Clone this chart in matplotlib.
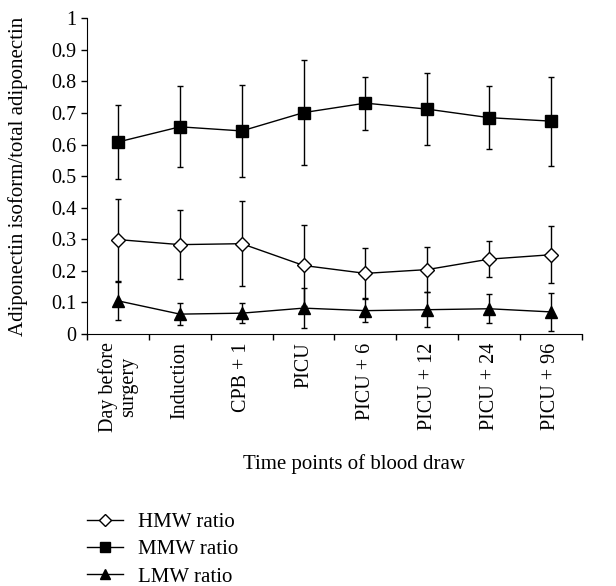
import matplotlib
matplotlib.use("Agg")
import matplotlib.pyplot as plt
from matplotlib.lines import Line2D
import numpy as np

plt.rcParams['font.family'] = ['Liberation Serif', 'DejaVu Serif']

# Time points and ratios
time_points = ["Day before\nsurgery", "Induction", "CPB + 1", "PICU",
               "PICU + 6", "PICU + 12", "PICU + 24", "PICU + 96"]

hmw = [0.299, 0.283, 0.286, 0.217, 0.192, 0.204, 0.237, 0.251]
hmw_sd = [0.130, 0.109, 0.134, 0.128, 0.079, 0.070, 0.056, 0.090]

mmw = [0.608, 0.656, 0.643, 0.701, 0.731, 0.712, 0.685, 0.674]
mmw_sd = [0.118, 0.128, 0.146, 0.165, 0.084, 0.113, 0.099, 0.141]

lmw = [0.105, 0.063, 0.066, 0.082, 0.074, 0.077, 0.080, 0.070]
lmw_sd = [0.060, 0.036, 0.031, 0.063, 0.037, 0.055, 0.046, 0.060]

x = np.arange(len(time_points)) + 0.5

fig = plt.figure(figsize=(6.16, 5.86), dpi=100)
ax = fig.add_axes([0.1415, 0.43, 0.803, 0.539])

err_kw = dict(color="black", ecolor="black", elinewidth=1, capsize=2.5,
              capthick=1, lw=1)
ax.errorbar(x, hmw, yerr=hmw_sd, marker="D", ms=7, mfc="white", mec="black",
            mew=1, **err_kw)
ax.errorbar(x, mmw, yerr=mmw_sd, marker="s", ms=9, mfc="black", mec="black",
            **err_kw)
ax.errorbar(x, lmw, yerr=lmw_sd, marker="^", ms=8, mfc="black", mec="black",
            **err_kw)

ax.set_xlim(0, len(time_points))
ax.set_ylim(0, 1)
ax.set_yticks(np.arange(0, 1.01, 0.1))
ax.set_yticklabels(["0"] + [f"{v:.1f}" for v in np.arange(0.1, 0.95, 0.1)] + ["1"])
ax.set_xticks(np.arange(0, len(time_points) + 1))
ax.set_xticklabels([])
ax.set_xticks(x, minor=True)
ax.set_xticklabels(time_points, minor=True, rotation=90, va="top",
                   ha="center", fontsize=14.5, linespacing=1.05)
ax.tick_params(axis="x", which="minor", length=0, pad=6)
ax.tick_params(axis="both", which="major", direction="out", length=4,
               width=1, labelsize=14.5)
for side in ["top", "right"]:
    ax.spines[side].set_visible(False)

ax.set_xlabel("Time points of blood draw", fontsize=15)
ax.xaxis.set_label_coords(0.54, -0.38)
ax.set_ylabel("Adiponectin isoform/total adiponectin", fontsize=15)
ax.yaxis.set_label_coords(-0.12, 0.5)

handles = [
    Line2D([], [], color="black", lw=1, marker="D", ms=6, mfc="white", mec="black"),
    Line2D([], [], color="black", lw=1, marker="s", ms=7, mfc="black"),
    Line2D([], [], color="black", lw=1, marker="^", ms=7, mfc="black"),
]
labels = ["HMW ratio", "MMW ratio", "LMW ratio"]
fig.legend(handles, labels, loc="upper left", bbox_to_anchor=(0.141, 0.125),
           frameon=False, fontsize=15, handlelength=1.75,
           labelspacing=0.36, handletextpad=0.72, borderpad=0,
           borderaxespad=0)

fig.savefig("out.png", dpi=100)
